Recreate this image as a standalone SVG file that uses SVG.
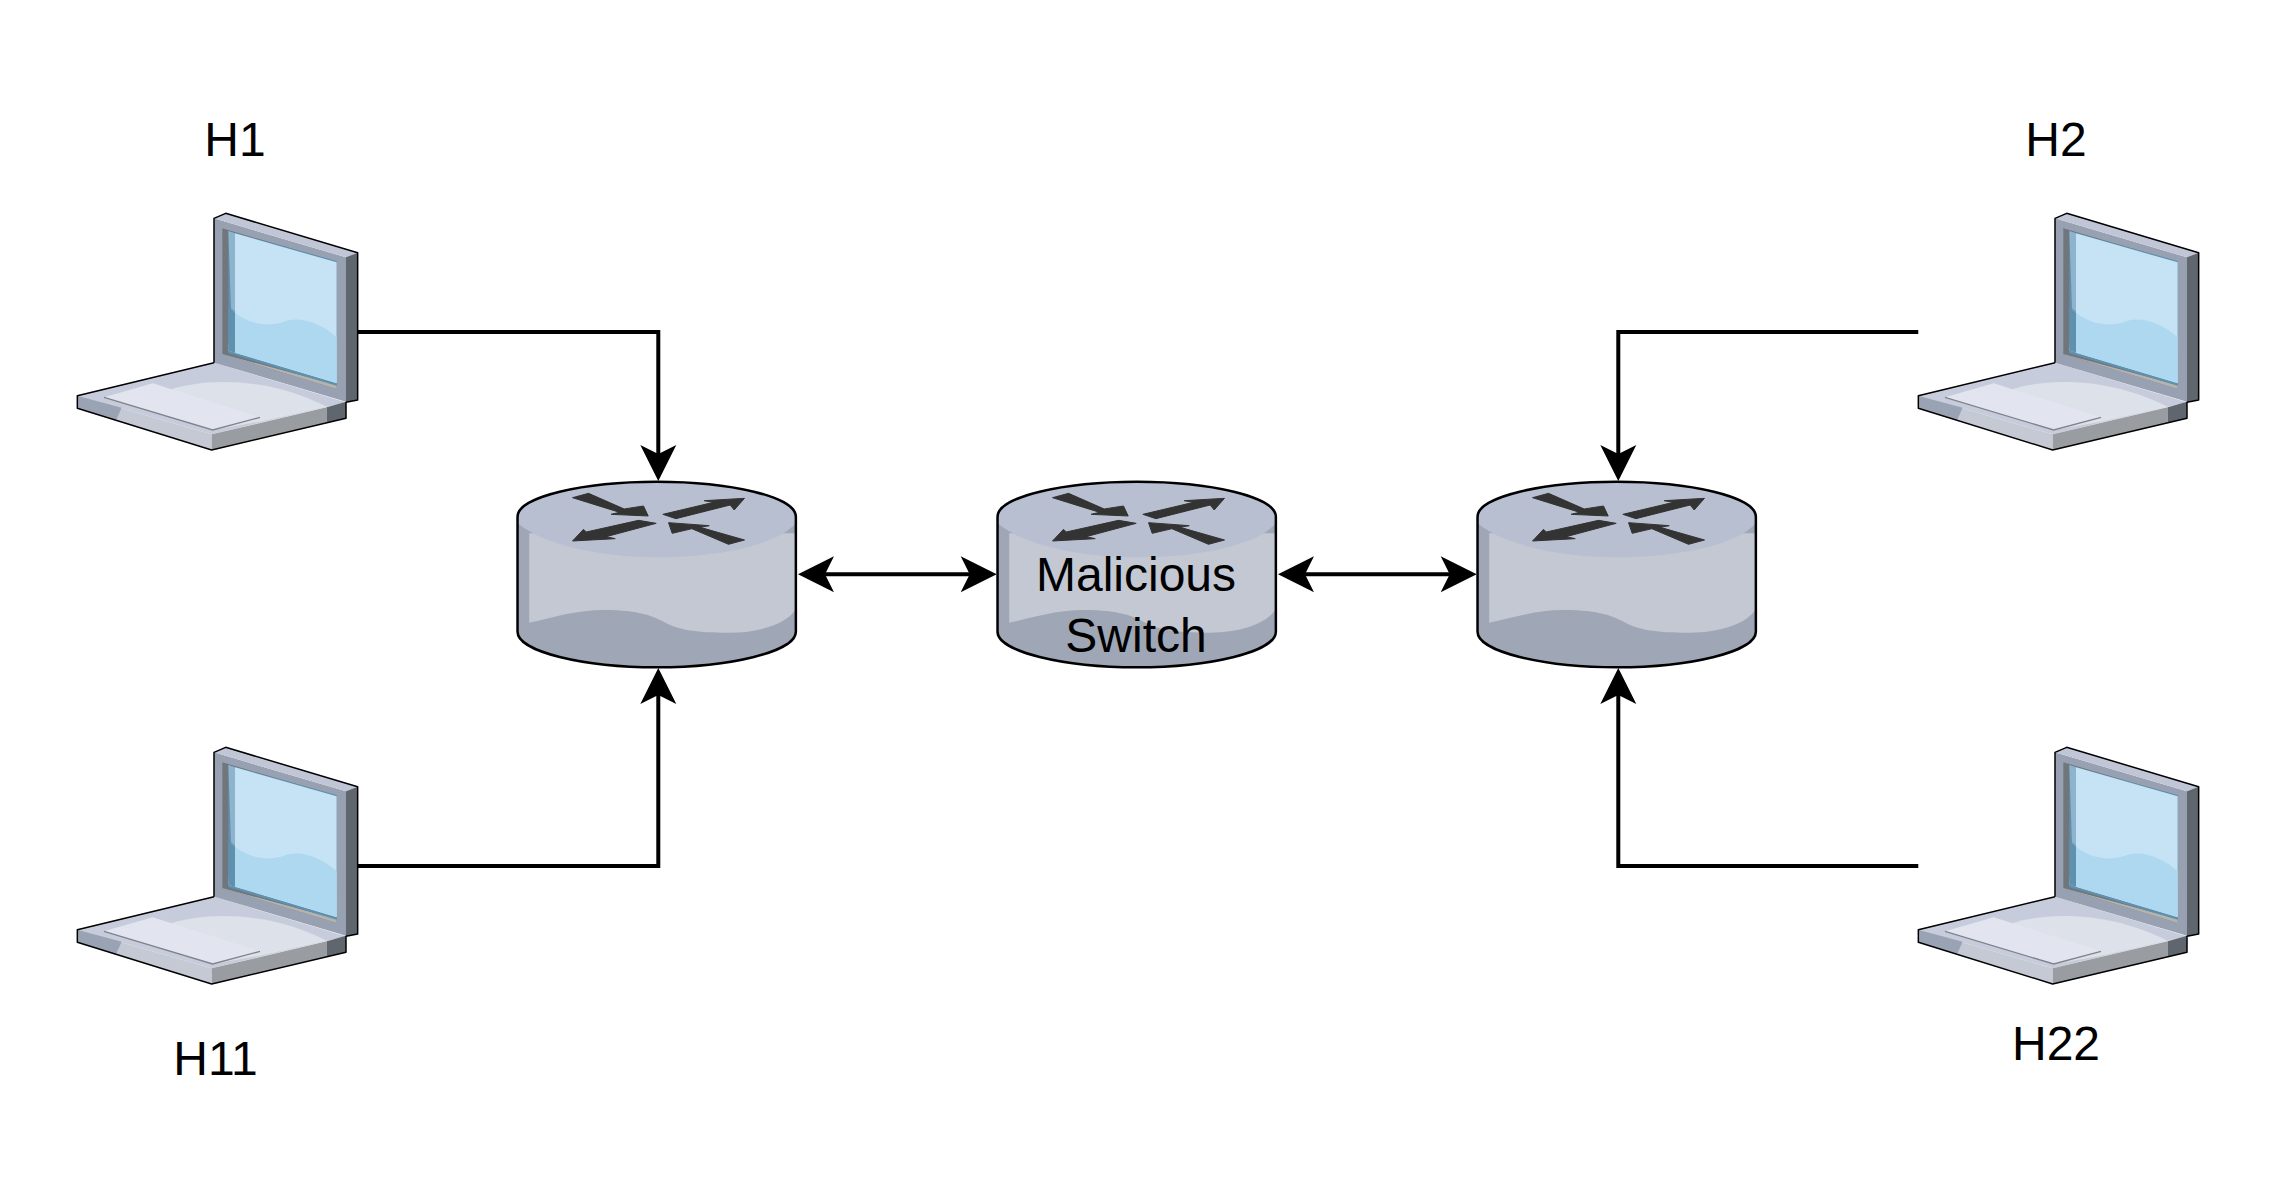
<svg xmlns="http://www.w3.org/2000/svg" width="2281" height="1200" viewBox="0 0 2281 1200">
<style>
text{font-family:"Liberation Sans",Arial,sans-serif;font-size:48px;fill:#000;text-anchor:middle}
.wire{fill:none;stroke:#000;stroke-width:4}
.out{fill:none;stroke:#000;stroke-width:4.5;stroke-linejoin:round}
.rout{fill:none;stroke:#000;stroke-width:7.5;stroke-linejoin:round}
.glyph{fill:#333;stroke:#333;stroke-width:3;stroke-linejoin:round}
</style>
<defs>
<marker id="ah" markerUnits="userSpaceOnUse" markerWidth="40" markerHeight="40" viewBox="0 0 40 40" refX="28" refY="20" orient="auto-start-reverse">
<path d="M38 20L2 2L11 20L2 38Z" fill="#000"/>
</marker>
<g id="laptop" transform="translate(60 200) scale(.33333)">
<path d="M52 587L462 488L858 607L455 703Z" fill="#c7ccdc"/>
<path d="M335 567C440 535 620 530 800 620L600 665L458 690Z" fill="#dde1ea"/>
<path d="M132 592L278 550L600 652L458 690Z" fill="#e2e5ef"/>
<path d="M132 592L458 690L600 652" fill="none" stroke="#808489" stroke-width="4"/>
<path d="M52 587L455 703V750L52 625Z" fill="#c4c9d3"/>
<path d="M52 587L185 623L168 661L52 625Z" fill="#9aa3b4"/>
<path d="M455 703L800 622V668L455 750Z" fill="#999da1"/>
<path d="M800 622L858 605V655L800 668Z" fill="#5f666e"/>
<path d="M462 55L858 172V605L462 488Z" fill="#98a1b2"/>
<path d="M462 55L497 40L893 158L858 172Z" fill="#c1c6d6"/>
<path d="M858 172L893 158V600L858 607Z" fill="#5f666e"/>
<path d="M487 85L830 185V567L487 462Z" fill="#71767c"/>
<path d="M487 462L830 555V567Z" fill="#b5b3ae"/>
<path d="M505 93L830 183V557L505 460Z" fill="#5f90ae"/>
<path d="M525 100L830 187V550L525 458Z" fill="#c5e3f5"/>
<path d="M505 93L525 100V335L513 325Z" fill="#8db4cc"/>
<path d="M513 328C560 372 620 385 680 362C730 348 790 375 830 412V548L525 458L505 452Z" fill="#aed8ef"/>
<path d="M513 328L525 338V458L505 452V325Z" fill="#5f90ae"/>
<path class="out" d="M462 488V55L497 40L893 158V600L858 607V655L455 750L52 625V587L462 488"/>
</g>
<g id="router" transform="translate(500.2 460) scale(.33333)">
<path d="M52 170C52 110 250 65 470 65C690 65 887 110 887 170V515C887 575 690 622 470 622C250 622 52 575 52 515Z" fill="#9fa6b5"/>
<path d="M87 220H885V450C860 490 780 518 690 518C620 518 540 515 490 485C460 470 420 450 310 450C230 450 170 470 87 488Z" fill="#c3c8d3"/>
<path d="M52 170C52 110 250 65 470 65C690 65 887 110 887 170V190C820 265 620 292 470 292C350 292 150 270 52 190Z" fill="#b7bfd1"/>
<path class="rout" d="M52 170C52 110 250 65 470 65C690 65 887 110 887 170V515C887 575 690 622 470 622C250 622 52 575 52 515Z"/>
<path class="glyph" d="M217 113L265 100L372 147L430 138L444 168L333 163L358 157Z"/>
<path class="glyph" d="M488 163L640 127L612 122L733 115L702 150L690 135L527 176Z"/>
<path class="glyph" d="M468 190L415 181L258 216L250 208L217 243L345 236L318 230Z"/>
<path class="glyph" d="M505 188L516 220L575 206L685 253L733 240L600 202L627 197Z"/>
</g>
</defs>
<g id="connectors">
<path class="wire" marker-end="url(#ah)" d="M358 332H658.3V471"/>
<path class="wire" marker-end="url(#ah)" d="M358 866H658.3V678"/>
<path class="wire" marker-end="url(#ah)" d="M1918.3 332H1618.3V471"/>
<path class="wire" marker-end="url(#ah)" d="M1918.3 866H1618.3V678"/>
<path class="wire" marker-start="url(#ah)" marker-end="url(#ah)" d="M808 574.3H986.7"/>
<path class="wire" marker-start="url(#ah)" marker-end="url(#ah)" d="M1288 574.3H1466.7"/>
</g>
<g id="h1"><use href="#laptop"/><text x="235" y="155.5">H1</text></g>
<g id="h11"><use href="#laptop" y="534"/><text x="215.5" y="1075">H11</text></g>
<g id="h2"><use href="#laptop" x="1841"/><text x="2056" y="155.5">H2</text></g>
<g id="h22"><use href="#laptop" x="1841" y="534"/><text x="2056" y="1060">H22</text></g>
<g id="switch-left"><use href="#router"/></g>
<g id="switch-malicious"><use href="#router" x="480"/><text x="1136" y="591">Malicious</text><text x="1136" y="652">Switch</text></g>
<g id="switch-right"><use href="#router" x="960"/></g>
</svg>
